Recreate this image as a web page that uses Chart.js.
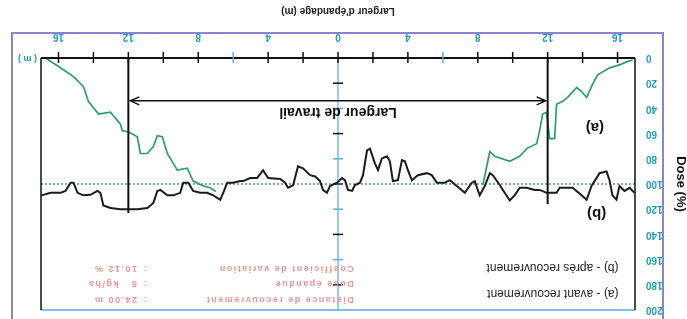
<!DOCTYPE html>
<html>
<head>
<meta charset="utf-8">
<script src="https://cdn.jsdelivr.net/npm/chart.js@4"></script>
<style>
  body { margin: 0; background: #fff; }
  /* la figure source est imprimee a l'envers */
  #cadre { width: 687px; height: 319px; transform: rotate(180deg); }
</style>
</head>
<body>
<div id="cadre"><canvas id="graphique" width="687" height="319"></canvas></div>
<script>
// (b) apres recouvrement
const positionsApres = [-16.97, -16.69, -16.4, -16.11, -15.94, -15.71, -15.54, -15.37, -14.97, -14.51,
  -14.23, -13.94, -13.43, -13.09, -12.69, -12.51, -11.94, -11.54, -11.26, -10.8,
  -10.4, -10.11, -9.83, -9.54, -9.26, -8.86, -8.69, -8.4, -8.11, -7.83,
  -7.66, -7.26, -6.8, -6.4, -6.11, -5.66, -5.37, -5.09, -4.57, -4.23,
  -4.0, -3.83, -3.66, -3.43, -3.14, -2.97, -2.8, -2.51, -2.29, -2.11,
  -1.83, -1.66, -1.43, -1.26, -0.97, -0.8, -0.57, -0.4, -0.23, 0.06,
  0.46, 0.63, 0.86, 1.03, 1.31, 1.6, 2.0, 2.29, 2.57, 2.86,
  3.03, 3.31, 4.0, 4.29, 4.63, 5.03, 5.43, 5.6, 6.0, 6.34,
  6.57, 6.74, 7.14, 7.49, 7.89, 8.29, 8.57, 8.86, 9.03, 9.43,
  9.77, 10.17, 10.34, 10.57, 10.91, 11.49, 12.06, 12.46, 13.03, 13.43,
  13.6, 13.77, 14.17, 14.57, 14.91, 15.14, 15.31, 15.6, 15.89, 16.46, 16.97];
const dosesApres = [107, 103, 105.5, 101.6, 112.5, 109, 97, 90, 91.4, 101.6,
  112.5, 109, 103, 103, 103, 107, 107, 104.7, 104.7, 103,
  103, 109, 113, 107, 100.8, 93, 91.4, 101.6, 109, 97.7,
  99, 107, 101.6, 97, 99, 99, 93, 91.4, 93, 97,
  89, 82, 81, 97, 97.7, 82, 78, 79.7, 89, 83.6,
  72, 73.4, 93, 99, 100.8, 105.5, 104.7, 97, 95.3, 99,
  101.6, 107, 104.7, 97.7, 94, 93, 87.5, 86, 101, 103,
  99, 96, 95.3, 89, 95.3, 95.3, 97.7, 97.7, 99, 99,
  107, 112.5, 109, 107, 107, 105.5, 99, 99, 107, 109,
  109, 104.7, 105.5, 115, 119, 120, 120, 120, 119, 117,
  107, 105.5, 108.6, 109, 107, 99, 99, 105.5, 107, 107, 109];

// (a) avant recouvrement : seuls les bords se distinguent de (b)
const positionsAvant = [-16.86, -16.51, -16.11, -15.54, -14.86, -14.57, -14.23, -13.94, -13.66, -13.14,
  -12.86, -12.51, -12.4, -12.11, -11.94, -11.71, -11.54, -11.37, -10.8, -10.4,
  -9.83, -8.97, -8.69, -8.29, 0,
  7.0, 7.31, 7.71, 8.29, 8.63, 9.2, 9.43, 9.77, 10.06, 10.34,
  10.57, 10.91, 11.31, 11.49, 12.0, 12.34, 12.46, 13.03, 13.71, 14.29,
  14.57, 15.14, 15.89, 16.7];
const dosesAvant = [1.6, 3.1, 5.5, 7.8, 13.3, 21, 31.3, 26.6, 23.4, 31.3,
  34.4, 36.7, 64, 64, 43, 44.5, 57.8, 68, 71.9, 78,
  82, 78, 74.2, 100.8, null,
  106, 103, 101.6, 97.7, 87.5, 89, 83.6, 75.8, 62.5, 61.7,
  70.3, 75.8, 75.8, 62.5, 58.6, 57.8, 52.3, 43, 44.5, 34.4,
  22.7, 14.8, 7.8, 0.5];

const ticksLargeur = [-16, -12, -8, -4, 0, 4, 8, 12, 16];
const ticksDose = [0, 20, 40, 60, 80, 100, 120, 140, 160, 180, 200];
const legende = ['(a) - avant recouvrement', '(b) - après recouvrement'];
const resume = [
  ['Distance de recouvrement', '24.00 m'],
  ['Dose épandue', '5   kg/ha'],
  ['Coefficient de variation', '10.12 %']
];

const sarcelle = '#1e9fae';
const police = 'Liberation Sans, Arial, sans-serif';

const decor = {
  id: 'decor',
  beforeDatasetsDraw(chart) {
    const { ctx, chartArea: a, scales: { x, y } } = chart;
    ctx.save();
    // cadre violet de la figure
    ctx.strokeStyle = '#8d82d2';
    ctx.lineWidth = 2;
    ctx.strokeRect(24, -10, 651, 296);

    // axe central
    const x0 = x.getPixelForValue(0);
    ctx.strokeStyle = '#5aaede';
    ctx.lineWidth = 1.2;
    ctx.beginPath(); ctx.moveTo(x0, a.top); ctx.lineTo(x0, a.bottom); ctx.stroke();
    for (let v = 20; v <= 180; v += 20) {
      const py = y.getPixelForValue(v);
      ctx.strokeStyle = (v / 20) % 2 ? '#111' : '#5aaede';
      ctx.lineWidth = 1.5;
      ctx.beginPath(); ctx.moveTo(x0 - 5, py); ctx.lineTo(x0 + 5, py); ctx.stroke();
    }

    // 100 %
    const p100 = y.getPixelForValue(100);
    ctx.strokeStyle = '#3f73b4';
    ctx.lineWidth = 1.3;
    ctx.setLineDash([2, 2]);
    ctx.beginPath(); ctx.moveTo(a.left, p100); ctx.lineTo(a.right, p100); ctx.stroke();
    ctx.setLineDash([]);

    // texte recapitulatif (rouge pale)
    ctx.fillStyle = '#ec9494';
    ctx.font = 'bold 9px ' + police;
    ctx.textBaseline = 'middle';
    const lignes = [191.4, 178.8, 167];
    resume.forEach((r, i) => {
      const py = y.getPixelForValue(lignes[i]);
      ctx.letterSpacing = '1.5px';
      ctx.textAlign = 'left';
      ctx.fillText(r[0], x.getPixelForValue(-0.9), py);
      ctx.fillText(':', x.getPixelForValue(10.95), py);
      ctx.fillText(r[1], x.getPixelForValue(11.5), py);
    });
    ctx.letterSpacing = '0px';
    ctx.restore();
  },
  afterDatasetsDraw(chart) {
    const { ctx, chartArea: a, scales: { x, y } } = chart;
    ctx.save();
    // bords du graphique
    ctx.lineCap = 'butt';
    ctx.strokeStyle = '#5aaede';
    ctx.lineWidth = 1.5;
    ctx.beginPath(); ctx.moveTo(a.left, a.top); ctx.lineTo(a.right, a.top); ctx.stroke();
    ctx.strokeStyle = '#111';
    ctx.beginPath();
    ctx.moveTo(a.left, a.top); ctx.lineTo(a.left, a.bottom);
    ctx.moveTo(a.right, a.top); ctx.lineTo(a.right, a.bottom);
    ctx.stroke();
    ctx.lineWidth = 2;
    ctx.beginPath(); ctx.moveTo(a.left, a.bottom); ctx.lineTo(a.right, a.bottom); ctx.stroke();

    // graduations de l'axe des largeurs
    for (let m = -16; m <= 16; m += 2) {
      const px = x.getPixelForValue(m);
      ctx.strokeStyle = Math.abs(m) === 6 ? '#5aaede' : '#111';
      ctx.lineWidth = 1.5;
      ctx.beginPath(); ctx.moveTo(px, a.bottom - 5); ctx.lineTo(px, a.bottom + 6); ctx.stroke();
    }

    // unite au bout de l'axe
    ctx.fillStyle = sarcelle;
    ctx.font = 'bold 9px ' + police;
    ctx.textAlign = 'left';
    ctx.textBaseline = 'middle';
    ctx.fillText('( m )', a.right + 4, a.bottom);

    // limites de la largeur de travail
    ctx.strokeStyle = '#111';
    ctx.lineWidth = 2;
    [[-12, 116], [12, 123]].forEach(([m, haut]) => {
      const px = x.getPixelForValue(m);
      ctx.beginPath(); ctx.moveTo(px, a.bottom); ctx.lineTo(px, y.getPixelForValue(haut)); ctx.stroke();
    });

    // fleche double
    const pg = x.getPixelForValue(-12) + 2, pd = x.getPixelForValue(12) - 2;
    const pf = y.getPixelForValue(34);
    ctx.lineWidth = 1.5;
    ctx.beginPath();
    ctx.moveTo(pg, pf); ctx.lineTo(pd, pf);
    ctx.moveTo(pg + 9, pf - 4); ctx.lineTo(pg, pf); ctx.lineTo(pg + 9, pf + 4);
    ctx.moveTo(pd - 9, pf - 4); ctx.lineTo(pd, pf); ctx.lineTo(pd - 9, pf + 4);
    ctx.stroke();

    ctx.fillStyle = '#111';
    ctx.textAlign = 'center';
    ctx.font = 'bold 14px ' + police;
    ctx.fillText('Largeur de travail', x.getPixelForValue(0), y.getPixelForValue(43));
    ctx.font = 'bold 15px ' + police;
    ctx.fillText('(a)', x.getPixelForValue(-14.7), y.getPixelForValue(55));
    ctx.fillText('(b)', x.getPixelForValue(-14.8), y.getPixelForValue(123));

    ctx.textAlign = 'left';
    ctx.font = '12px ' + police;
    ctx.fillStyle = '#222';
    ctx.fillText(legende[0], x.getPixelForValue(-16.06), y.getPixelForValue(186.5));
    ctx.fillText(legende[1], x.getPixelForValue(-16.06), y.getPixelForValue(166));
    ctx.restore();
  }
};

new Chart(document.getElementById('graphique'), {
  type: 'line',
  data: {
    datasets: [
      {
        label: legende[1],
        data: positionsApres.map((p, i) => ({ x: p, y: dosesApres[i] })),
        borderColor: '#1b1b1b',
        borderWidth: 2,
        pointRadius: 0,
        tension: 0,
        order: 1
      },
      {
        label: legende[0],
        data: positionsAvant.map((p, i) => ({ x: p, y: dosesAvant[i] })),
        borderColor: '#2f9c70',
        borderWidth: 1.7,
        pointRadius: 0,
        tension: 0,
        spanGaps: false,
        order: 2
      }
    ]
  },
  options: {
    responsive: false,
    animation: false,
    devicePixelRatio: 1,
    layout: { padding: { left: 0, right: 41, top: 6, bottom: 0 } },
    plugins: { legend: { display: false }, tooltip: { enabled: false } },
    scales: {
      x: {
        type: 'linear',
        min: -17,
        max: 17,
        afterBuildTicks: s => { s.ticks = ticksLargeur.map(v => ({ value: v })); },
        afterFit: s => { s.height = 58; },
        grid: { display: false },
        border: { display: false },
        ticks: {
          callback: v => Math.abs(v),
          color: sarcelle,
          font: { family: police, size: 10, weight: 'bold' },
          padding: 7,
          maxRotation: 0,
          autoSkip: false
        },
        title: {
          display: true,
          text: "Largeur d'épandage (m)",
          color: '#222',
          font: { family: police, size: 10, weight: 'bold' },
          padding: { top: 0, bottom: 5 }
        }
      },
      y: {
        min: 0,
        max: 200,
        afterBuildTicks: s => { s.ticks = ticksDose.map(v => ({ value: v })); },
        afterFit: s => { s.width = 52; },
        grid: { display: false },
        border: { display: false },
        ticks: {
          color: sarcelle,
          font: { family: police, size: 10, weight: 'bold' },
          padding: 3,
          autoSkip: false
        },
        title: {
          display: true,
          text: 'Dose (%)',
          color: '#111',
          font: { family: police, size: 13, weight: 'bold', lineHeight: 1 },
          padding: { top: 0, bottom: 0 }
        }
      }
    }
  },
  plugins: [decor]
});
</script>
</body>
</html>
